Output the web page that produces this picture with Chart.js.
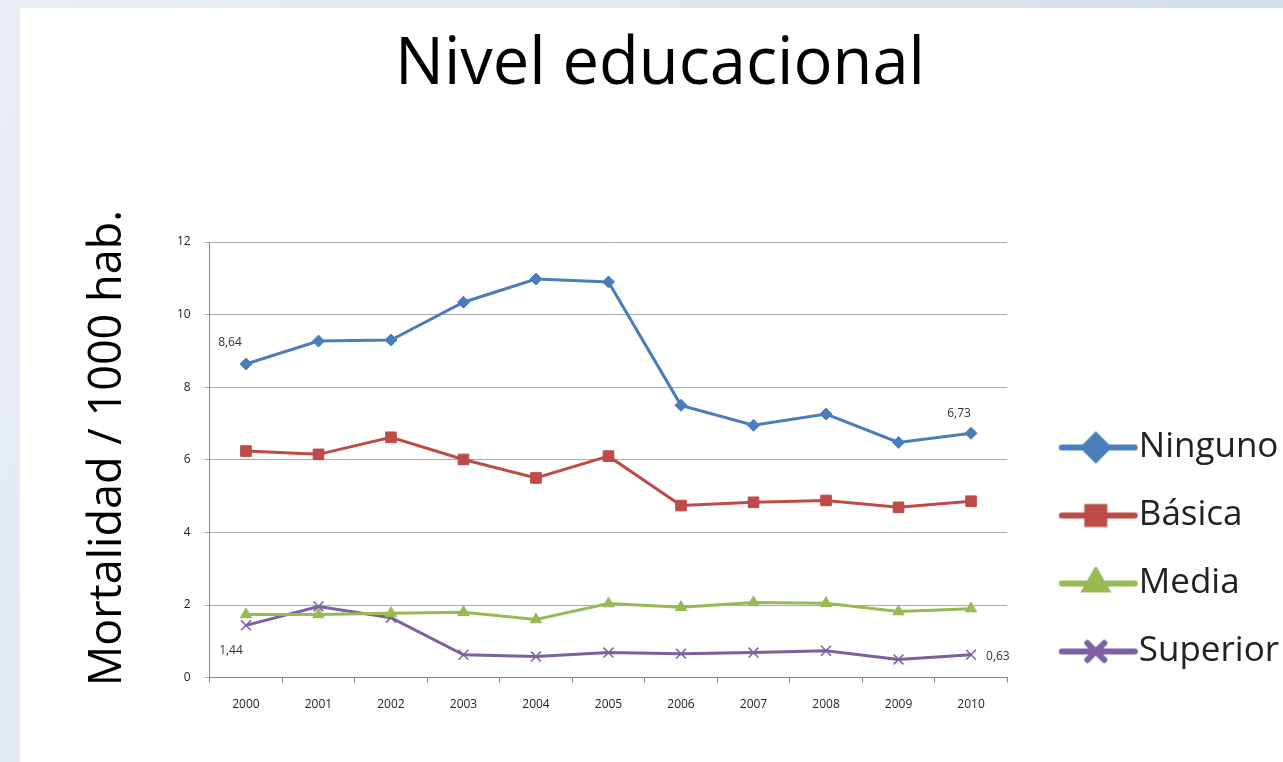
<!DOCTYPE html>
<html>
<head>
<meta charset="utf-8">
<script src="https://cdn.jsdelivr.net/npm/chart.js@4"></script>
<style>
  html, body { margin: 0; padding: 0; overflow: hidden; }
  body {
    width: 1283px; height: 762px; position: relative;
    background: linear-gradient(120deg, #eaeef6 0%, #dbe5ef 50%, #c4d9e8 100%);
  }
  #panel { position: absolute; left: 20px; top: 8px; right: 0; bottom: 0; background: #fff; }
  #wrap { position: absolute; left: 0; top: 0; width: 1289px; height: 762px; }
</style>
</head>
<body>
<div id="panel"></div>
<div id="wrap"><canvas id="canvas" width="1289" height="762"></canvas></div>
<script>
// data
const years = ['2000','2001','2002','2003','2004','2005','2006','2007','2008','2009','2010'];
const ninguno  = [8.64, 9.27, 9.30, 10.34, 10.98, 10.90, 7.50, 6.95, 7.26, 6.48, 6.73];
const basica   = [6.24, 6.15, 6.62, 6.01, 5.50, 6.10, 4.74, 4.83, 4.88, 4.69, 4.86];
const media    = [1.74, 1.74, 1.77, 1.80, 1.60, 2.04, 1.94, 2.07, 2.05, 1.82, 1.90];
const superior = [1.44, 1.96, 1.65, 0.63, 0.58, 0.69, 0.66, 0.69, 0.74, 0.50, 0.63];
const yTicks   = [0, 2, 4, 6, 8, 10, 12];

// value labels shown on the chart: [dataset, index, text, dx, dy, align]
const valueLabels = [
  [0, 0, '8,64', -16, -21, 'center'],
  [0, 10, '6,73', -12, -20, 'center'],
  [3, 0, '1,44', -15, 25, 'center'],
  [3, 10, '0,63', 15, 2, 'left']
];

const colors = ['#4a7ebb', '#be4b48', '#98b954', '#7d60a0'];
const styles = ['rectRot', 'rect', 'triangle', 'crossRot'];
const radii  = [6, 7.5, 6.5, 7];

// legend key: a short line with the marker on it
function legendIcon(color, style) {
  const c = document.createElement('canvas');
  c.width = 140; c.height = 34;
  const ctx = c.getContext('2d');
  ctx.strokeStyle = color;
  ctx.lineWidth = 6;
  ctx.lineCap = 'round';
  ctx.beginPath();
  ctx.moveTo(51, 17);
  ctx.lineTo(124, 17);
  ctx.stroke();
  ctx.fillStyle = color;
  Chart.helpers.drawPoint(ctx, {pointStyle: style, radius: 12, borderWidth: style === 'crossRot' ? 2.5 : 1}, 85, 17);
  return c;
}
const icons = colors.map((c, i) => legendIcon(c, styles[i]));

const valueLabelPlugin = {
  id: 'valueLabels',
  afterDatasetsDraw(chart) {
    const ctx = chart.ctx;
    ctx.save();
    ctx.font = '12px "Open Sans", sans-serif';
    ctx.fillStyle = '#333';
    ctx.textBaseline = 'middle';
    valueLabels.forEach(([ds, i, text, dx, dy, align]) => {
      const pt = chart.getDatasetMeta(ds).data[i];
      ctx.textAlign = align;
      ctx.fillText(text, pt.x + dx, pt.y + dy);
    });
    ctx.restore();
  }
};

function makeSet(label, data, i) {
  return {
    label: label,
    data: data,
    borderColor: colors[i],
    backgroundColor: colors[i],
    borderWidth: 3,
    pointStyle: styles[i],
    pointRadius: radii[i],
    pointBorderWidth: styles[i] === 'crossRot' ? 1.5 : 1,
    pointBorderColor: colors[i],
    pointBackgroundColor: colors[i],
    tension: 0
  };
}

new Chart(document.getElementById('canvas'), {
  type: 'line',
  data: {
    labels: years,
    datasets: [
      makeSet('Ninguno', ninguno, 0),
      makeSet('Básica', basica, 1),
      makeSet('Media', media, 2),
      makeSet('Superior', superior, 3)
    ]
  },
  options: {
    responsive: false,
    animation: false,
    layout: { padding: { left: 31, right: 0, top: 0, bottom: 35 } },
    plugins: {
      title: {
        display: true,
        text: 'Nivel educacional',
        color: '#000',
        font: { family: '"Open Sans", sans-serif', size: 65, weight: 'normal' },
        padding: { top: 26, bottom: 138 }
      },
      legend: {
        position: 'right',
        align: 'center',
        title: { display: true, text: ' ', font: { size: 10 }, padding: { top: 360, bottom: 0 } },
        labels: {
          usePointStyle: true,
          pointStyleWidth: 81,
          color: '#222',
          padding: 33,
          font: { family: '"Open Sans", sans-serif', size: 35 },
          generateLabels: chart => Chart.defaults.plugins.legend.labels.generateLabels(chart)
            .map((l, i) => Object.assign(l, { pointStyle: icons[i] }))
        }
      },
      tooltip: { enabled: false }
    },
    scales: {
      x: {
        offset: true,
        grid: { display: true, offset: true, drawOnChartArea: false, drawTicks: true, tickLength: 5, color: '#868686' },
        border: { color: '#868686' },
        ticks: { color: '#222', padding: 15, font: { family: '"Open Sans", sans-serif', size: 12 } }
      },
      y: {
        min: 0,
        max: 12,
        afterBuildTicks: s => { s.ticks = yTicks.map(v => ({ value: v })); },
        grid: { color: '#aaaaaa', tickLength: 5, drawTicks: true },
        border: { color: '#868686' },
        ticks: { color: '#222', padding: 14, font: { family: '"Open Sans", sans-serif', size: 12 } },
        title: {
          display: true,
          text: '  Mortalidad / 1000 hab.',
          color: '#000',
          font: { family: '"Open Sans", sans-serif', size: 45 },
          padding: { top: 50, bottom: 28 }
        }
      }
    }
  },
  plugins: [valueLabelPlugin]
});
</script>
</body>
</html>
